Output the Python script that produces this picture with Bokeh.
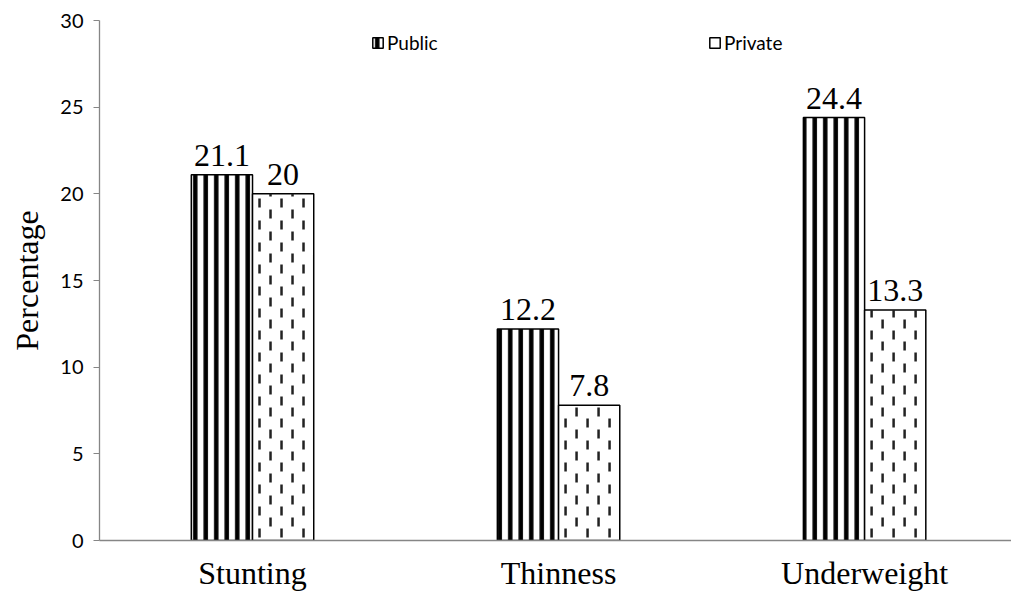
from bokeh.plotting import figure
from bokeh.models import (ColumnDataSource, Range1d, FixedTicker, Legend, LegendItem, LabelSet)
from bokeh.embed import file_html
from bokeh.resources import INLINE

categories = ["Stunting", "Thinness", "Underweight"]
public = [21.1, 12.2, 24.4]
private = [20, 7.8, 13.3]
y_ticks = [0, 5, 10, 15, 20, 25, 30]

centers = [i + 0.5 for i in range(len(categories))]
bar_w = 0.2
X_END, Y_END = 2.98, 30
FRAME_W, FRAME_H = 912, 520          # plot frame size in pixels
px_x = FRAME_W / X_END               # pixels per x unit
px_y = FRAME_H / Y_END               # pixels per y unit

pub_src = ColumnDataSource(dict(x=[c - bar_w / 2 for c in centers], top=public,
                                lbl=[f"{v:g}" for v in public]))
prv_src = ColumnDataSource(dict(x=[c + bar_w / 2 for c in centers], top=private,
                                lbl=[f"{v:g}" for v in private]))

# staggered short vertical dashes filling the "Private" bars
dash_len, dash_period, col_gap, col_start = 9, 22, 11, 7   # pixels
x0s, y0s, y1s = [], [], []
for xc, top in zip(prv_src.data["x"], private):
    left = xc - bar_w / 2
    n_cols = int((bar_w * px_x - col_start) // col_gap) + 1
    for k in range(n_cols):
        xk = left + (col_start + k * col_gap) / px_x
        if xk >= left + bar_w - 2 / px_x:
            continue
        shift = 0 if k % 2 == 0 else dash_period / 2
        ypx = shift + 3
        while ypx < top * px_y:
            y0 = ypx / px_y
            y1 = min((ypx + dash_len) / px_y, top)
            if (y1 - y0) * px_y > 1.5:
                x0s.append(xk); y0s.append(y0); y1s.append(y1)
            ypx += dash_period
dash_src = ColumnDataSource(dict(x=x0s, y0=y0s, y1=y1s))

p = figure(width=1011, height=596, output_backend="svg", toolbar_location=None,
           x_range=Range1d(0, X_END), y_range=Range1d(0, Y_END),
           min_border_left=99, min_border_right=0, min_border_top=20, min_border_bottom=56)
p.outline_line_color = None
p.grid.visible = False
p.background_fill_color = "white"
p.border_fill_color = "white"

r_pub = p.vbar(x="x", top="top", width=bar_w, bottom=0, source=pub_src,
               fill_color="white", line_color="black", line_width=1.5,
               hatch_pattern="|", hatch_color="black", hatch_scale=10.5, hatch_weight=4.5)
r_prv = p.vbar(x="x", top="top", width=bar_w, bottom=0, source=prv_src,
               fill_color="white", line_color="black", line_width=1.5)
p.segment(x0="x", y0="y0", x1="x", y1="y1", source=dash_src,
          line_color="#222222", line_width=2.5, line_cap="butt")

for src in (pub_src, prv_src):
    p.add_layout(LabelSet(x="x", y="top", text="lbl", source=src, text_align="center",
                          text_baseline="bottom", y_offset=9,
                          text_font="Liberation Serif", text_font_size="32px",
                          text_color="black"))

# y axis
p.yaxis.ticker = FixedTicker(ticks=y_ticks)
p.yaxis.axis_line_color = "#868686"
p.yaxis.axis_line_width = 1.3
p.yaxis.major_tick_line_color = "#868686"
p.yaxis.major_tick_out = 6
p.yaxis.major_tick_in = 0
p.yaxis.minor_tick_line_color = None
p.yaxis.major_label_text_font = "Lato"
p.yaxis.major_label_text_font_size = "20px"
p.yaxis.major_label_text_color = "black"
p.yaxis.major_label_standoff = 10
p.yaxis.axis_label = "Percentage"
p.yaxis.axis_label_text_font = "Liberation Serif"
p.yaxis.axis_label_text_font_size = "32px"
p.yaxis.axis_label_text_font_style = "normal"
p.yaxis.axis_label_text_color = "black"
p.yaxis.axis_label_standoff = 12

# x axis
p.xaxis.ticker = FixedTicker(ticks=centers)
p.xaxis.major_label_overrides = {c: name for c, name in zip(centers, categories)}
p.xaxis.axis_line_color = "#868686"
p.xaxis.axis_line_width = 1.3
p.xaxis.major_tick_line_color = None
p.xaxis.minor_tick_line_color = None
p.xaxis.major_label_text_font = "Liberation Serif"
p.xaxis.major_label_text_font_size = "32px"
p.xaxis.major_label_text_color = "black"
p.xaxis.major_label_standoff = 8

for item, loc in ((LegendItem(label="Public", renderers=[r_pub]), (272, 486)),
                  (LegendItem(label="Private", renderers=[r_prv]), (609, 486))):
    leg = Legend(items=[item], location=loc, padding=0, margin=0,
                 border_line_color=None, background_fill_alpha=0,
                 glyph_width=13, glyph_height=13, label_standoff=3,
                 label_text_font="Lato", label_text_font_size="19px",
                 label_text_color="black", label_height=20)
    p.add_layout(leg, "center")

open("out.html", "w").write(file_html(p, INLINE))
